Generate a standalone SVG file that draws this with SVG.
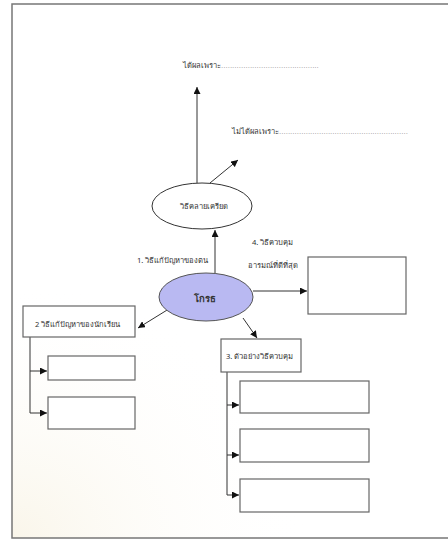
<svg xmlns="http://www.w3.org/2000/svg" width="448" height="539" viewBox="0 0 448 539">
<defs>
<marker id="ah" viewBox="0 0 10 10" refX="10" refY="5" markerWidth="7" markerHeight="7" markerUnits="userSpaceOnUse" orient="auto"><path d="M0,0 L10,5 L0,10 z" fill="#111"/></marker>
<radialGradient id="glow" cx="0" cy="1" r="1"><stop offset="0" stop-color="#f3ead0" stop-opacity="0.45"/><stop offset="1" stop-color="#ffffff" stop-opacity="0"/></radialGradient>
</defs>
<style>
.t{font-family:"Noto Sans","DejaVu Sans","Liberation Sans",sans-serif;font-size:7.6px;fill:#333}
.box{fill:#fff;stroke:#666;stroke-width:1.2}
.ln{fill:none;stroke:#333;stroke-width:1}
.arr{fill:none;stroke:#333;stroke-width:1;marker-end:url(#ah)}
.dots{font-family:"Liberation Sans",sans-serif;font-size:8px;fill:#999}
</style>
<rect width="448" height="539" fill="#fff"/>
<rect x="12" y="280" width="300" height="258" fill="url(#glow)"/>
<path d="M448,4 H12 V538 H448" fill="none" stroke="#777" stroke-width="1.5"/>
<g id="connectors">
<line class="arr" x1="197" y1="183" x2="197" y2="87"/>
<line class="arr" x1="210" y1="183" x2="238" y2="160"/>
<line class="arr" x1="215" y1="273" x2="215" y2="230"/>
<line class="arr" x1="253" y1="291" x2="307" y2="291"/>
<line class="arr" x1="172" y1="307" x2="138" y2="328"/>
<line class="arr" x1="243" y1="318" x2="257" y2="338"/>
<path class="ln" d="M30,337 V413"/>
<line class="arr" x1="30" y1="371" x2="47" y2="371"/>
<line class="arr" x1="30" y1="413" x2="47" y2="413"/>
<path class="ln" d="M227,372 V495"/>
<line class="arr" x1="227" y1="405" x2="239" y2="405"/>
<line class="arr" x1="227" y1="455" x2="239" y2="455"/>
<line class="arr" x1="227" y1="495" x2="239" y2="495"/>
</g>
<g id="effective">
<text class="t" x="183" y="68">ได้ผลเพราะ<tspan class="dots">............................................</tspan></text>
</g>
<g id="ineffective">
<text class="t" x="232" y="134">ไม่ได้ผลเพราะ<tspan class="dots">..........................................................</tspan></text>
</g>
<g id="relax">
<ellipse cx="202" cy="206" rx="50" ry="23" fill="#fff" stroke="#333" stroke-width="1"/>
<text class="t" x="204" y="209" text-anchor="middle">วิธีคลายเครียด</text>
</g>
<g id="label1">
<text class="t" x="137" y="263">1. วิธีแก้ปัญหาของตน</text>
</g>
<g id="label4">
<text class="t" x="252" y="245">4. วิธีควบคุม</text>
<text class="t" x="248" y="268">อารมณ์ที่ดีที่สุด</text>
</g>
<g id="angry">
<ellipse cx="206" cy="297" rx="47" ry="24" fill="#b9b9f2" stroke="#555" stroke-width="1"/>
<text class="t" x="205" y="302" text-anchor="middle" style="font-size:9.5px;font-weight:bold">โกรธ</text>
</g>
<g id="box4">
<rect class="box" x="308" y="257" width="98" height="57"/>
</g>
<g id="student">
<rect class="box" x="23" y="306" width="112" height="31"/>
<text class="t" x="35" y="327">2 วิธีแก้ปัญหาของนักเรียน</text>
</g>
<g id="s1"><rect class="box" x="48" y="356" width="87" height="24"/></g>
<g id="s2"><rect class="box" x="48" y="397" width="87" height="32"/></g>
<g id="example">
<rect class="box" x="221" y="339" width="80" height="33"/>
<text class="t" x="226" y="359">3. ตัวอย่างวิธีควบคุม</text>
</g>
<g id="e1"><rect class="box" x="240" y="381" width="129" height="32"/></g>
<g id="e2"><rect class="box" x="240" y="429" width="129" height="33"/></g>
<g id="e3"><rect class="box" x="240" y="479" width="129" height="33"/></g>
</svg>
